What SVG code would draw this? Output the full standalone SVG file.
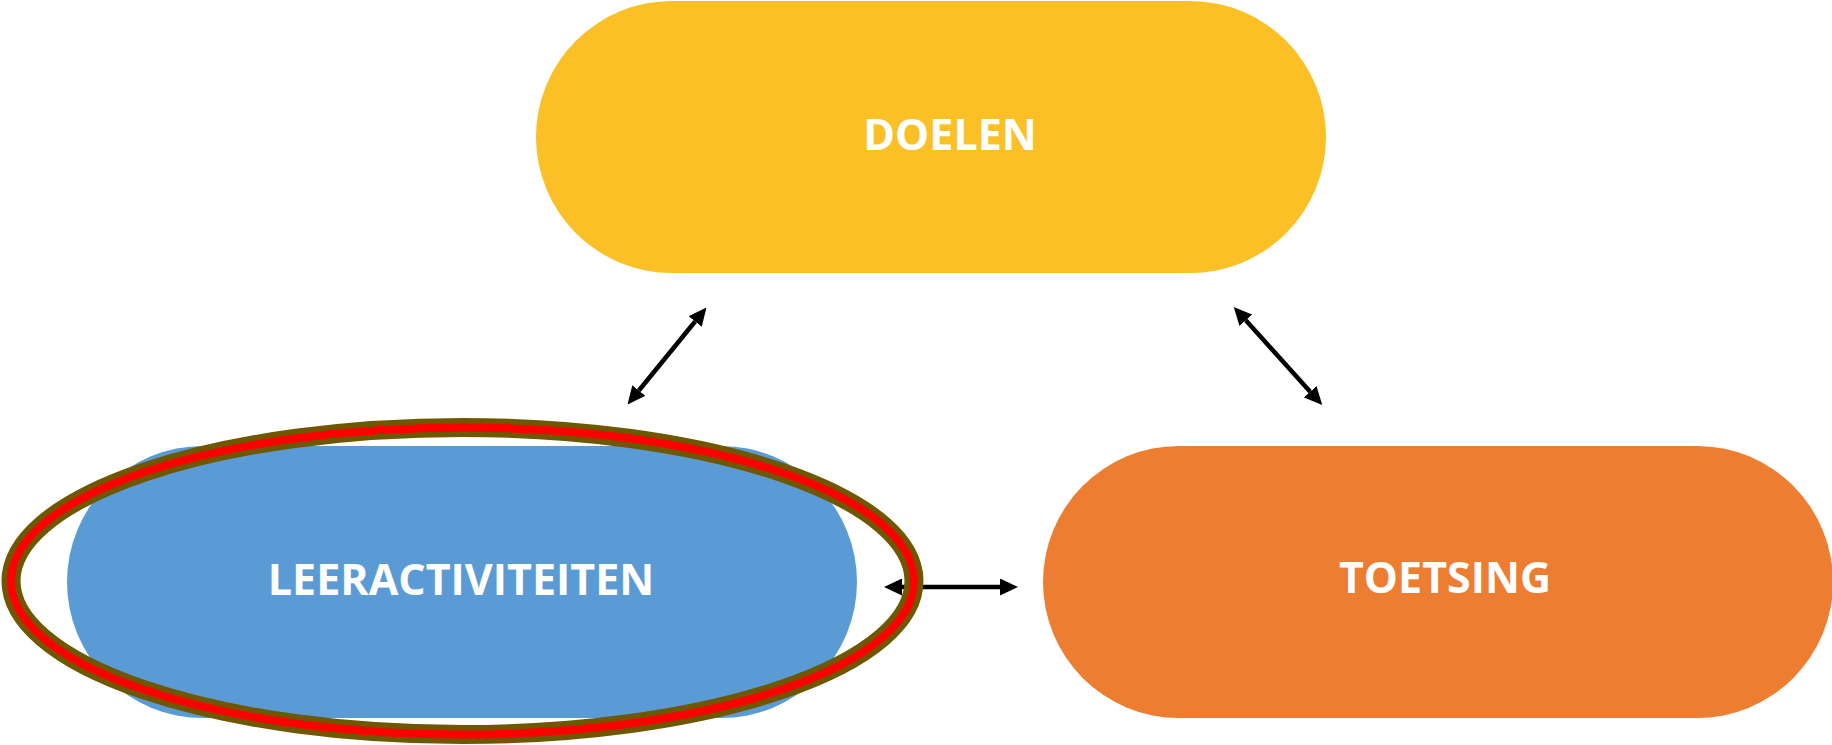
<svg xmlns="http://www.w3.org/2000/svg" width="1832" height="745" viewBox="0 0 1832 745">
  <style>
    .lbl { font-family: "Open Sans", "Liberation Sans", sans-serif; font-weight: 700; font-size: 43px; fill: #FFFFFF; text-anchor: middle; }
    .conn { stroke: #000000; stroke-width: 4.5; fill: none; marker-start: url(#head); marker-end: url(#head); }
  </style>
  <defs>
    <marker id="head" markerUnits="userSpaceOnUse" markerWidth="18" markerHeight="17" viewBox="0 0 18 17" refX="0" refY="8.5" orient="auto-start-reverse">
      <path d="M0,0 L18,8.5 L0,17 Z" fill="#000000"/>
    </marker>
  </defs>
  <rect width="1832" height="745" fill="#FFFFFF"/>

  <g id="node-doelen">
    <rect x="536" y="1" width="790" height="272" rx="136" ry="136" fill="#FBC026"/>
    <text class="lbl" x="950" y="150">DOELEN</text>
  </g>

  <g id="node-leeractiviteiten">
    <rect x="67" y="446" width="790" height="272" rx="136" ry="136" fill="#5B9BD5"/>
    <text class="lbl" x="461" y="595">LEERACTIVITEITEN</text>
  </g>

  <g id="node-toetsing">
    <rect x="1043" y="446" width="790" height="272" rx="136" ry="136" fill="#ED7D31"/>
    <text class="lbl" x="1445" y="593">TOETSING</text>
  </g>

  <g id="connectors">
    <line class="conn" x1="638.9" y1="390.5" x2="695.1" y2="321.5"/>
    <line class="conn" x1="1245.8" y1="320.3" x2="1310.2" y2="391.7"/>
    <line class="conn" x1="902" y1="587" x2="1000" y2="587"/>
  </g>

  <g id="highlight-ellipse">
    <ellipse cx="462.5" cy="581" rx="451.5" ry="153.5" fill="none" stroke="#6F5700" stroke-width="19"/>
    <ellipse cx="462.5" cy="581" rx="451.5" ry="153.5" fill="none" stroke="#FF0000" stroke-width="8"/>
  </g>
</svg>
